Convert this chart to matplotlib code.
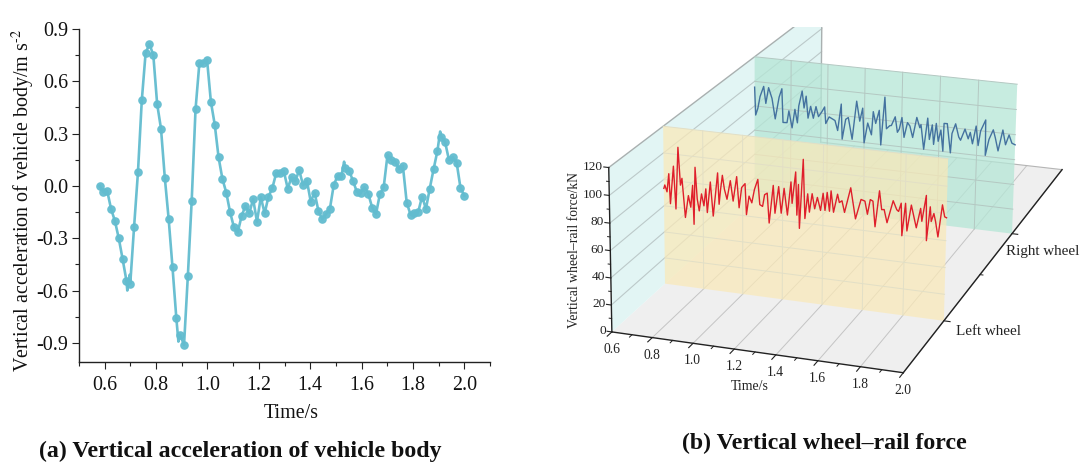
import numpy as np
import matplotlib
matplotlib.use("Agg")
import matplotlib.pyplot as plt
from matplotlib.ticker import MultipleLocator
from mpl_toolkits.mplot3d import proj3d
from mpl_toolkits.mplot3d.art3d import Poly3DCollection

plt.rcParams["font.family"] = ["Liberation Serif", "DejaVu Serif"]
plt.rcParams["mathtext.fontset"] = "stix"
plt.rcParams["axes.unicode_minus"] = False

# (a) body acceleration, one value per marker
accel_t = np.linspace(0.58, 2.0, 96)
accel = [0.0, -0.036, -0.029, -0.132, -0.201, -0.30, -0.419, -0.543, -0.56, -0.233,
         0.077, 0.49, 0.763, 0.813, 0.751, 0.47, 0.329, 0.046, -0.19, -0.467,
         -0.759, -0.855, -0.912, -0.516, -0.084, 0.44, 0.704, 0.704, 0.723, 0.482,
         0.352, 0.164, 0.04, -0.038, -0.151, -0.237, -0.266, -0.172, -0.115, -0.157,
         -0.075, -0.205, -0.065, -0.157, -0.061, -0.013, 0.073, 0.074, 0.084, -0.015,
         0.05, 0.029, 0.09, 0.004, 0.031, -0.09, -0.038, -0.143, -0.191, -0.161,
         -0.13, 0.006, 0.057, 0.057, 0.101, 0.088, 0.029, -0.033, -0.038, -0.008,
         -0.046, -0.124, -0.161, -0.048, -0.008, 0.178, 0.149, 0.14, 0.098, 0.115,
         -0.096, -0.165, -0.153, -0.149, -0.061, -0.132, -0.015, 0.096, 0.201, 0.283,
         0.251, 0.149, 0.165, 0.134, -0.011, -0.056]
# line points between markers (small overshoots)
overshoot_t = [0.688, 0.697, 0.887, 1.532, 1.906]
overshoot = [-0.60, -0.51, -0.893, 0.139, 0.312]

# (b) wheel-rail force, left wheel
left_t = [0.6, 0.605, 0.616, 0.626, 0.633, 0.65, 0.661, 0.674, 0.685, 0.693, 0.709, 0.725, 0.737,
          0.747, 0.753, 0.76, 0.77, 0.78, 0.792, 0.804, 0.814, 0.821, 0.837, 0.851, 0.863, 0.874,
          0.881, 0.888, 0.898, 0.908, 0.921, 0.938, 0.952, 0.97, 0.982, 0.995, 1.012, 1.019, 1.032,
          1.046, 1.059, 1.076, 1.086, 1.1, 1.11, 1.123, 1.133, 1.153, 1.162, 1.18, 1.193, 1.207,
          1.224, 1.241, 1.247, 1.264, 1.271, 1.278, 1.284, 1.301, 1.311, 1.324, 1.333, 1.346, 1.359,
          1.372, 1.388, 1.4, 1.41, 1.42, 1.432, 1.439, 1.452, 1.471, 1.48, 1.493, 1.506, 1.535,
          1.56, 1.586, 1.605, 1.618, 1.631, 1.644, 1.656, 1.675, 1.687, 1.699, 1.714, 1.742, 1.76,
          1.769, 1.781, 1.787, 1.802, 1.811, 1.83, 1.856, 1.875, 1.882, 1.901, 1.906, 1.921, 1.927,
          1.939, 1.948, 1.961, 1.979, 1.991, 2.0]
left_force = [73.2, 75.9, 70.9, 84.8, 62.2, 90.9, 58.7, 105.5, 77.2, 82.5, 53.1, 70, 61.4,
              78.2, 48.7, 92, 68.3, 59.4, 72.5, 63.7, 76.7, 58.9, 82.3, 56.8, 73.7, 89.8,
              66.3, 76.7, 88.4, 78.2, 70.8, 85.1, 70, 88.7, 65.5, 81, 84.2, 61, 75.2,
              70.4, 80.6, 88.5, 69.8, 68.7, 77.7, 79.1, 56.8, 85.4, 64.7, 85, 65.3, 84.2,
              64.5, 89.6, 73.7, 97.4, 65.3, 88.3, 55.6, 107.4, 63.5, 82.2, 68.7, 82.7, 71.7,
              80.4, 71, 84, 71.4, 85, 71.2, 86.5, 70.8, 84.6, 78.6, 80.1, 71.7, 90.5,
              67.9, 82.8, 81.9, 72.4, 83.5, 82.6, 63.8, 90.8, 77.1, 77.4, 67.9, 84.7, 78.4,
              77.3, 83.6, 59.6, 83.9, 63.6, 83.1, 66.8, 81.5, 72.1, 91.5, 58.2, 83.5, 72.8,
              78.9, 73.1, 62, 86, 77.4, 76.9]

# (b) wheel-rail force, right wheel
right_t = [0.6, 0.606, 0.618, 0.63, 0.65, 0.662, 0.677, 0.696, 0.714, 0.735, 0.75, 0.757, 0.779,
           0.789, 0.807, 0.822, 0.836, 0.843, 0.861, 0.872, 0.883, 0.894, 0.908, 0.923, 0.937, 0.951,
           0.969, 0.984, 0.991, 1.009, 1.041, 1.056, 1.074, 1.081, 1.099, 1.113, 1.135, 1.157, 1.175,
           1.19, 1.2, 1.218, 1.239, 1.247, 1.261, 1.279, 1.29, 1.308, 1.319, 1.337, 1.345, 1.365,
           1.378, 1.388, 1.401, 1.414, 1.431, 1.444, 1.46, 1.48, 1.497, 1.503, 1.52, 1.538, 1.549,
           1.563, 1.572, 1.584, 1.596, 1.609, 1.622, 1.625, 1.642, 1.662, 1.668, 1.686, 1.704, 1.714,
           1.736, 1.754, 1.764, 1.777, 1.794, 1.807, 1.818, 1.843, 1.846, 1.863, 1.884, 1.896, 1.912,
           1.934, 1.95, 1.967, 1.983, 2.0]
right_force = [95.3, 72.6, 78.3, 88.1, 96.7, 83, 96.1, 87.6, 71.2, 89.3, 96.4, 69, 69.2,
               79, 65.4, 80.8, 70, 83.9, 96.3, 82.7, 92.5, 74.8, 84.6, 75.2, 84.9, 77,
               81.2, 85.4, 72, 77.7, 75.3, 67.4, 89.2, 60.8, 77.3, 78.9, 61.6, 92.9, 77,
               87.8, 59.8, 76.2, 67, 85.9, 76.6, 87.5, 59.6, 98.6, 73.3, 76.1, 76.3, 83.7,
               71.4, 74.2, 83.7, 67.9, 80.1, 77.6, 68.6, 85.1, 77.1, 79.7, 60.1, 85.5, 68.5,
               80.5, 64.9, 82, 67.8, 77.1, 60.3, 82.7, 82.8, 59.6, 75.3, 83.4, 73.1, 70.7,
               80, 72.5, 77.8, 68.9, 83.4, 68, 79.9, 89.1, 60.8, 73.9, 81.9, 75.6, 65.5,
               82.6, 71.1, 79.2, 72.9, 71.9]

wheel_names = ["Left wheel", "Right wheel"]
wheel_pos = [0.2171, 0.6369]
time_ticks = [0.6, 0.8, 1.0, 1.2, 1.4, 1.6, 1.8, 2.0]
force_ticks = [0, 20, 40, 60, 80, 100, 120]

TEAL = "#62bccf"
FW, FH = 1084.0, 468.0


def grid_plane(ax, w, face, alpha, line, zo):
    poly = [[(0.6, w, 0), (2.0, w, 0), (2.0, w, 120), (0.6, w, 120)]]
    ax.add_collection3d(Poly3DCollection(poly, facecolors=face, edgecolors="none", alpha=alpha, zorder=zo))
    for t in time_ticks[1:-1]:
        ax.plot([t, t], [w, w], [0, 120], color=line, lw=0.7, zorder=zo + 0.1)
    for z in force_ticks[1:]:
        ax.plot([0.6, 2.0], [w, w], [z, z], color=line, lw=0.7, zorder=zo + 0.1)


def label3d(ax, t, w, z, s, **kw):
    # plain 2d text at the projected point
    u, v, _ = proj3d.proj_transform(np.array([t]), np.array([w]), np.array([z]), ax.get_proj())
    ax.text2D(u[0], v[0], s, transform=ax.transData, va="center", color="#222222", zorder=7, clip_on=False, **kw)


# ---- (a)
fig = plt.figure(figsize=(FW / 100, FH / 100), dpi=100, facecolor="white")
ax1 = fig.add_axes([79 / FW, 1 - 362 / FH, 411 / FW, 333 / FH])
line_t = np.concatenate([accel_t, overshoot_t])
line_v = np.concatenate([accel, overshoot])
order = np.argsort(line_t)
ax1.plot(line_t[order], line_v[order], color=TEAL, lw=1.9, alpha=0.95)
ax1.plot(accel_t, accel, ls="none", marker="o", ms=6.2, color=TEAL, mec="none", alpha=0.95)
ax1.set_xlim(0.5, 2.1)
ax1.set_ylim(-1.01, 0.9)
ax1.xaxis.set_major_locator(MultipleLocator(0.2))
ax1.xaxis.set_minor_locator(MultipleLocator(0.1))
ax1.set_yticks([-0.9, -0.6, -0.3, 0.0, 0.3, 0.6, 0.9])
ax1.yaxis.set_minor_locator(MultipleLocator(0.15))
ax1.spines["top"].set_visible(False)
ax1.spines["right"].set_visible(False)
for s in ("left", "bottom"):
    ax1.spines[s].set_linewidth(1.0)
    ax1.spines[s].set_color("#222222")
ax1.tick_params(which="major", length=5, width=0.8, labelsize=14.4, color="#222222", labelcolor="#111111")
ax1.tick_params(which="minor", length=2.6, width=0.8, color="#222222")
ax1.tick_params(axis="x", which="major", pad=5)
ax1.tick_params(axis="y", which="major", pad=2.5)
fig.text(291 / FW, 1 - 413 / FH, "Time/s", fontsize=14.4, ha="center", va="center", color="#111111")
fig.text(23 / FW, 1 - 201 / FH, r"Vertical acceleration of vehicle body/m s$^{\text{-}2}$", fontsize=14.4,
         rotation=90, ha="center", va="center", color="#111111")

# ---- (b)
S = 700.0
ax2 = fig.add_axes([(542 - S / 2 + 306.63) / FW, (234 - S / 2 + 55.86) / FH, S / FW, S / FH], projection="3d")
ax2.set_xlim(0.6, 2.0, view_margin=0)
ax2.set_ylim(0, 1, view_margin=0)
ax2.set_zlim(0, 120, view_margin=0)
ax2.view_init(18.713, -72.3156, -0.8075)
ax2.set_proj_type("persp", focal_length=0.6742)
ax2.set_box_aspect((1.7558, 3.7461, 1), zoom=0.9425)
ax2.set_xticks([])
ax2.set_yticks([])
ax2.set_zticks([])
ax2.set_axis_off()
ax2.patch.set_alpha(0)
ax2.computed_zorder = False

floor = [[(0.6, 0, 0), (2.0, 0, 0), (2.0, 1, 0), (0.6, 1, 0)]]
ax2.add_collection3d(Poly3DCollection(floor, facecolors="#efefef", edgecolors="none", zorder=1))
wall = [[(0.6, 0, 0), (0.6, 1, 0), (0.6, 1, 120), (0.6, 0, 120)]]
ax2.add_collection3d(Poly3DCollection(wall, facecolors="#e2f5f4", edgecolors="none", zorder=1.2))
for t in time_ticks[1:-1]:
    ax2.plot([t, t], [0, 1], [0, 0], color="#c4c4c4", lw=0.7, zorder=1.4)
for z in force_ticks[1:-1]:
    ax2.plot([0.6, 0.6], [0, 1], [z, z], color="#bcc9c9", lw=0.8, zorder=1.4)
ax2.plot([0.6, 0.6, 0.6], [0, 1, 1], [120, 120, 0], color="#a9b0b0", lw=1.0, zorder=1.5)
ax2.plot([0.6, 2.0, 2.0], [1, 1, 0], [0, 0, 0], color="#b5b5b5", lw=0.8, zorder=1.5)

grid_plane(ax2, wheel_pos[1], "#b5e6d6", 0.75, "#b4c8c2", 2)
ax2.plot(right_t, [wheel_pos[1]] * len(right_t), right_force, color="#44729f", lw=1.0, zorder=3)
grid_plane(ax2, wheel_pos[0], "#fae9b8", 0.72, "#e2dfc6", 4)
ax2.plot(left_t, [wheel_pos[0]] * len(left_t), left_force, color="#df1f2b", lw=1.0, zorder=5)

# axes lines, ticks and labels are drawn by hand, the 3d axis can't be placed like this
ax2.plot([0.6, 0.6], [0, 0], [0, 120], color="#222222", lw=1.0, zorder=6)
ax2.plot([0.6, 2.0], [0, 0], [0, 0], color="#222222", lw=1.0, zorder=6)
ax2.plot([2.0, 2.0], [0, 1], [0, 0], color="#222222", lw=1.0, zorder=6)
for z in force_ticks:
    ax2.plot([0.576, 0.6], [0, 0], [z, z], color="#222222", lw=0.8, zorder=6)
    label3d(ax2, 0.57, 0, z, str(z), fontsize=9.6, ha="right")
for z in force_ticks[:-1]:
    ax2.plot([0.588, 0.6], [0, 0], [z + 10, z + 10], color="#222222", lw=0.7, zorder=6)
for t in time_ticks:
    ax2.plot([t, t], [-0.018, 0], [0, 0], color="#222222", lw=0.8, zorder=6)
    label3d(ax2, t + 0.01, -0.01, -11, "%.1f" % t, fontsize=9.8, ha="center")
for t in np.array(time_ticks[:-1]) + 0.1:
    ax2.plot([t, t], [-0.01, 0], [0, 0], color="#222222", lw=0.7, zorder=6)
for w in wheel_pos:
    ax2.plot([2.0, 2.03], [w, w], [0, 0], color="#222222", lw=0.8, zorder=6)
ax2.plot([2.0, 2.015], [0.43, 0.43], [0, 0], color="#222222", lw=0.7, zorder=6)
label3d(ax2, 2.06, wheel_pos[0], -7, wheel_names[0], fontsize=10.9, ha="left")
label3d(ax2, 1.97, wheel_pos[1], -15, wheel_names[1], fontsize=10.9, ha="left")
fig.text(750 / FW, 1 - 387 / FH, "Time/s", fontsize=10, ha="center", va="center", color="#222222")
fig.text(574 / FW, 1 - 250 / FH, "Vertical wheel\u2013rail force/kN", fontsize=9.8, rotation=90,
         ha="center", va="center", color="#222222")

# back corner of the wall is cut off in the original
cut = fig.add_axes([700 / FW, 1 - 27 / FH, 200 / FW, 27 / FH], facecolor="white", zorder=5)
cut.set_xticks([])
cut.set_yticks([])
for s in cut.spines.values():
    s.set_visible(False)

fig.text(240.5 / FW, 1 - 451 / FH, "(a) Vertical acceleration of vehicle body", fontsize=17.2, fontweight="bold",
         ha="center", va="center", color="#111111")
fig.text(824 / FW, 1 - 443 / FH, "(b) Vertical wheel\u2013rail force", fontsize=17.2, fontweight="bold",
         ha="center", va="center", color="#111111")

fig.savefig("out.png", dpi=100)
